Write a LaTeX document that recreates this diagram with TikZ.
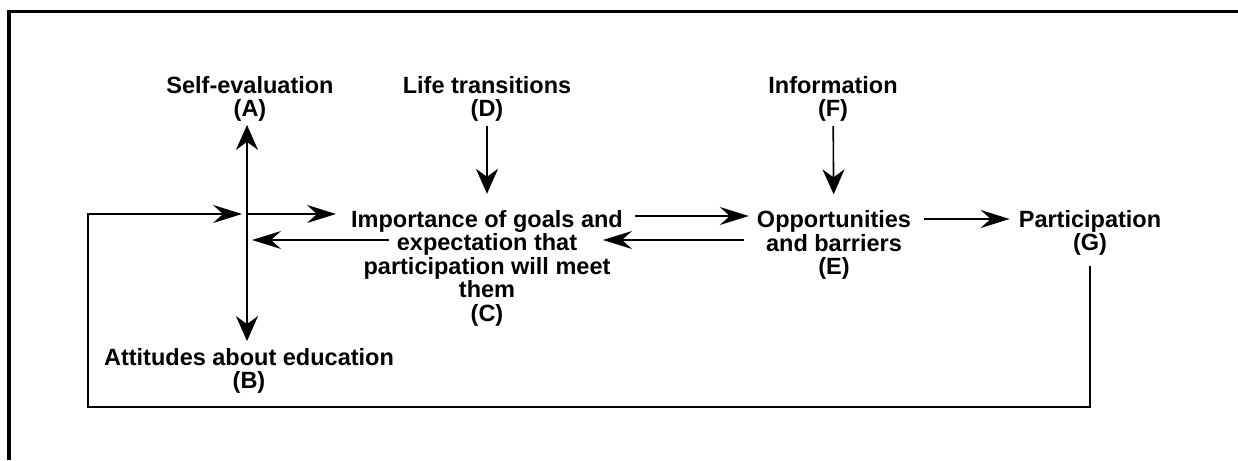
\documentclass[tikz,border=0pt]{standalone}
\usepackage{fontspec}
\setmainfont{Liberation Sans}
\usetikzlibrary{arrows.meta,positioning}

\begin{document}
\begin{tikzpicture}[x=1pt,y=-1pt,
  txt/.style={font=\bfseries\fontsize{23.5}{23.5}\selectfont, align=center, inner sep=0pt},
  hflow/.style={-{Stealth[length=29pt,width=18pt,inset=10pt]}, line width=1.6pt},
  vflow/.style={-{Stealth[length=25pt,width=22pt,inset=8pt]}, line width=1.6pt}]
\useasboundingbox (0,0) rectangle (1238,460);

% Moldura
\draw[line width=3.5pt, line join=miter] (9,460) -- (9,11.5) -- (1238,11.5);

% Fatores
\node[txt] (A) at (250,99) {Self-evaluation\\(A)};
\node[txt] (D) at (487,99) {Life transitions\\(D)};
\node[txt] (F) at (833,99) {Information\\(F)};
\node[txt] (C) at (487,268) {Importance of goals and\\expectation that\\participation will meet\\them\\(C)};
\node[txt] (E) at (834,245) {Opportunities\\and barriers\\(E)};
\node[txt] (G) at (1090,233) {Participation\\(G)};
\node[txt] (B) at (249,371) {Attitudes about education\\(B)};

% Cruzamento e retorno
\coordinate (hub) at (247,214);
\coordinate (loop) at (88,407);

% Eixo vertical A--B
\draw[vflow, shorten >=3pt] (hub) -- (hub |- A.south);
\draw[vflow, shorten >=7pt] (hub) -- (hub |- B.north);

% Retorno da participacao
\draw[hflow, shorten <=10pt, shorten >=5pt] (G.south) -- (G.south |- loop) -- (loop) -- (loop |- hub) -- (hub);

% Setas horizontais
\draw[hflow, shorten >=15pt] (hub) -- (C.west |- hub);
\draw[hflow, shorten >=5pt] ([xshift=38pt]C.west |- 0,240) -- (hub |- 0,240);
\draw[hflow, shorten <=12pt, shorten >=8pt] (C.east |- 0,216) -- (E.west |- 0,216);
\draw[hflow, shorten <=13pt] (E.west |- 0,240) -- ([xshift=-20pt]C.east |- 0,240);
\draw[hflow, shorten <=13pt, shorten >=9pt] (E.east |- 0,219) -- (G.west |- 0,219);

% Setas verticais
\draw[vflow, shorten <=4pt, shorten >=16pt] (D) -- (C);
\draw[vflow, shorten <=4pt, shorten >=16pt] (F) -- (E);

\end{tikzpicture}
\end{document}
